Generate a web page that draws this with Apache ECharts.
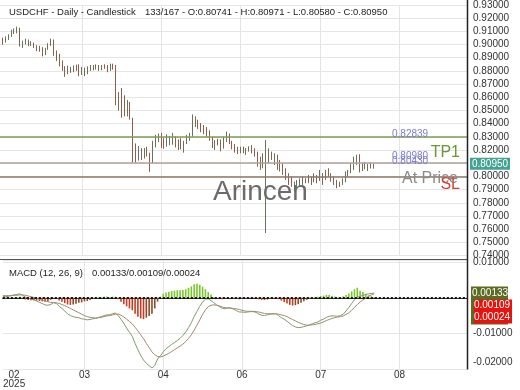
<!DOCTYPE html>
<html><head><meta charset="utf-8">
<script src="https://cdn.jsdelivr.net/npm/echarts@6/dist/echarts.min.js"></script>
<style>html,body{margin:0;padding:0;background:#fff}#c{width:520px;height:390px}</style>
</head><body><div id="c"></div>
<script>
// ---------- data ----------
const symbolTitle = 'USDCHF - Daily - Candlestick';
const macdTitle = 'MACD (12, 26, 9)';
const firstDate = '2025-02-05';
const totalSlots = 166;
const tickDates  = ['2025-02-11','2025-03-18','2025-04-25','2025-06-04','2025-07-14','2025-08-21'];
const tickLabels = ['02\n2025','03','04','06','07','08'];
const levelValues = [0.82839, 0.80980, 0.80430];
const levelNames  = ['TP1', 'At Price', 'SL'];
const lastPrice = 0.80950;

const open = [
.9035,.9045,.9040,.9050,.9068,.9100,.9090,.9125,.8995,.9015,
.9030,.9000,.9010,.8985,.8965,.8975,.8925,.8965,.9000,.9035,
.8930,.8890,.8850,.8830,.8790,.8815,.8800,.8830,.8820,.8775,
.8815,.8780,.8815,.8830,.8825,.8835,.8815,.8830,.8820,.8805,
.8845,.8830,.8600,.8600,.8560,.8500,.8560,.8440,.8160,.8150,
.8200,.8150,.8185,.8170,.8110,.8240,.8290,.8300,.8285,.8230,
.8260,.8275,.8295,.8265,.8240,.8220,.8255,.8305,.8310,.8450,
.8410,.8395,.8380,.8345,.8330,.8290,.8240,.8260,.8250,.8215,
.8280,.8310,.8265,.8220,.8200,.8185,.8210,.8190,.8205,.8215,
.8195,.8165,.8110,.8130,.8125,.8160,.8170,.8150,.8160,.8070,
.8055,.8020,.7985,.7950,.7930,.7945,.7950,.7960,.7975,.7965,
.7980,.7960,.7990,.7970,.8020,.7995,.8030,.8010,.7975,.7950,
.7925,.7940,.7960,.8030,.8040,.8085,.8130,.8150,.8050,.8085,
.8065,.8080,.80741];
const high = [
.9055,.9052,.9062,.9078,.9112,.9122,.9136,.9128,.9030,.9045,
.9038,.9025,.9015,.8995,.8990,.8980,.8975,.9010,.9045,.9038,
.8955,.8930,.8880,.8835,.8840,.8830,.8842,.8848,.8850,.8830,
.8825,.8835,.8845,.8845,.8850,.8845,.8845,.8850,.8845,.8855,
.8855,.8845,.8640,.8670,.8615,.8580,.8565,.8445,.8250,.8230,
.8215,.8215,.8225,.8180,.8270,.8315,.8325,.8330,.8290,.8320,
.8305,.8330,.8305,.8280,.8290,.8270,.8315,.8330,.8470,.8455,
.8430,.8405,.8390,.8375,.8350,.8300,.8275,.8285,.8280,.8300,
.8340,.8325,.8270,.8245,.8225,.8225,.8226,.8215,.8228,.8238,
.8213,.8188,.8150,.8175,.8276,.8213,.8188,.8175,.8165,.8125,
.8100,.8062,.8024,.7998,.7960,.7973,.7985,.7998,.7985,.8011,
.7998,.8024,.8011,.8049,.8025,.8049,.8062,.8024,.7998,.7973,
.7960,.7985,.8037,.8049,.8100,.8150,.8165,.8168,.8100,.8110,
.8095,.8105,.80971];
const low = [
.9020,.8998,.9015,.9035,.9058,.9080,.9085,.8985,.8975,.9000,
.8988,.8990,.8975,.8950,.8945,.8910,.8920,.8960,.8990,.8915,
.8875,.8835,.8800,.8755,.8775,.8785,.8790,.8800,.8760,.8770,
.8760,.8775,.8800,.8805,.8810,.8800,.8805,.8815,.8790,.8800,
.8810,.8540,.8500,.8445,.8455,.8455,.8430,.8105,.8105,.8120,
.8125,.8135,.8150,.8035,.8100,.8220,.8260,.8215,.8210,.8225,
.8235,.8240,.8220,.8200,.8205,.8180,.8245,.8270,.8300,.8375,
.8360,.8335,.8320,.8300,.8270,.8215,.8200,.8235,.8190,.8210,
.8260,.8245,.8205,.8180,.8170,.8175,.8175,.8163,.8188,.8175,
.8150,.8074,.8049,.8062,.7571,.8100,.8125,.8087,.8049,.8037,
.8011,.7973,.7935,.7922,.7884,.7910,.7922,.7935,.7948,.7948,
.7935,.7955,.7948,.7965,.7935,.7973,.7998,.7960,.7935,.7910,
.7920,.7935,.7955,.7998,.8024,.8049,.8087,.8030,.8040,.8055,
.8040,.8060,.80580];
const close = [
.9045,.9040,.9050,.9068,.9100,.9090,.9125,.8995,.9015,.9030,
.9000,.9010,.8985,.8965,.8975,.8925,.8965,.9000,.9035,.8930,
.8890,.8850,.8830,.8790,.8815,.8800,.8830,.8820,.8775,.8815,
.8780,.8815,.8830,.8825,.8835,.8815,.8830,.8820,.8805,.8845,
.8830,.8600,.8600,.8560,.8500,.8560,.8440,.8160,.8150,.8200,
.8150,.8185,.8170,.8110,.8240,.8290,.8300,.8285,.8230,.8260,
.8275,.8295,.8265,.8240,.8220,.8255,.8305,.8310,.8450,.8410,
.8395,.8380,.8345,.8330,.8290,.8240,.8260,.8250,.8215,.8280,
.8310,.8265,.8220,.8200,.8185,.8210,.8190,.8205,.8215,.8195,
.8165,.8110,.8130,.8125,.8160,.8170,.8150,.8160,.8070,.8055,
.8020,.7985,.7950,.7930,.7945,.7950,.7960,.7975,.7965,.7980,
.7960,.7990,.7970,.8020,.7995,.8030,.8010,.7975,.7950,.7925,
.7940,.7960,.8030,.8040,.8085,.8130,.8150,.8050,.8085,.8065,
.8080,.8074,.80950];

const macdLine = [
.0004,.0003,.0004,.0006,.0008,.0009,.0011,.0007,.0002,-.0001,
-.0004,-.0006,-.0009,-.0013,-.0016,-.0020,-.0021,-.0019,-.0014,-.0016,
-.0024,-.0030,-.0037,-.0045,-.0050,-.0053,-.0055,-.0056,-.0059,-.0060,
-.0062,-.0061,-.0059,-.0058,-.0055,-.0053,-.0050,-.0048,-.0048,-.0045,
-.0043,-.0050,-.0060,-.0072,-.0085,-.0097,-.0108,-.0128,-.0146,-.0162,
-.0175,-.0184,-.0191,-.0197,-.0190,-.0172,-.0163,-.0152,-.0143,-.0137,
-.0131,-.0126,-.0120,-.0114,-.0106,-.0096,-.0084,-.0070,-.0053,-.0038,
-.0024,-.0012,-.0004,-.0003,-.0008,-.0014,-.0020,-.0025,-.0030,-.0031,
-.0028,-.0029,-.0032,-.0036,-.0040,-.0040,-.0041,-.0040,-.0039,-.0039,
-.0041,-.0046,-.0049,-.0050,-.0048,-.0046,-.0045,-.0045,-.0050,-.0056,
-.0060,-.0066,-.0072,-.0078,-.0082,-.0084,-.0083,-.0081,-.0079,-.0076,
-.0073,-.0070,-.0068,-.0063,-.0060,-.0055,-.0052,-.0051,-.0051,-.0052,
-.0050,-.0046,-.0037,-.0027,-.0016,-.0006,.0002,.0004,.0007,.0009,
.0011,.0012,.00133];
const signalLine = [
.0006,.0006,.0006,.0006,.0007,.0007,.0008,.0008,.0007,.0005,
.0003,.0001,-.0001,-.0004,-.0006,-.0009,-.0011,-.0013,-.0013,-.0014,
-.0016,-.0019,-.0022,-.0026,-.0030,-.0034,-.0038,-.0042,-.0046,-.0050,
-.0053,-.0055,-.0056,-.0057,-.0056,-.0055,-.0053,-.0051,-.0050,-.0048,
-.0046,-.0046,-.0049,-.0054,-.0060,-.0067,-.0073,-.0083,-.0093,-.0104,
-.0115,-.0128,-.0140,-.0152,-.0160,-.0165,-.0166,-.0164,-.0160,-.0156,
-.0151,-.0146,-.0141,-.0136,-.0130,-.0123,-.0114,-.0104,-.0091,-.0077,
-.0062,-.0047,-.0034,-.0025,-.0021,-.0020,-.0021,-.0023,-.0026,-.0028,
-.0029,-.0029,-.0030,-.0031,-.0033,-.0035,-.0037,-.0038,-.0038,-.0038,
-.0039,-.0040,-.0042,-.0044,-.0045,-.0045,-.0045,-.0045,-.0046,-.0048,
-.0050,-.0053,-.0057,-.0061,-.0065,-.0069,-.0072,-.0075,-.0077,-.0077,
-.0076,-.0075,-.0073,-.0071,-.0068,-.0064,-.0061,-.0058,-.0056,-.0054,
-.0053,-.0051,-.0047,-.0042,-.0035,-.0027,-.0019,-.0012,-.0006,-.0001,
.0004,.0008,.00109];
const histogram = [
-.0002,-.0003,-.0002,.0000,.0001,.0002,.0003,-.0001,-.0005,-.0006,
-.0007,-.0007,-.0008,-.0009,-.0010,-.0011,-.0010,-.0006,-.0001,-.0002,
-.0008,-.0011,-.0015,-.0019,-.0020,-.0019,-.0017,-.0014,-.0013,-.0010,
-.0009,-.0006,-.0003,-.0001,.0001,.0002,.0003,.0003,.0002,.0003,
.0003,-.0004,-.0011,-.0018,-.0024,-.0030,-.0035,-.0045,-.0053,-.0058,
-.0060,-.0056,-.0051,-.0045,-.0030,-.0011,.0003,.0011,.0015,.0017,
.0019,.0020,.0021,.0021,.0022,.0024,.0028,.0032,.0038,.0039,
.0036,.0031,.0024,.0016,.0009,.0002,-.0002,-.0003,-.0004,-.0002,
.0001,.0000,-.0002,-.0003,-.0004,-.0003,-.0003,-.0002,-.0001,-.0001,
-.0002,-.0004,-.0006,-.0006,-.0005,-.0003,-.0002,-.0002,-.0004,-.0008,
-.0012,-.0016,-.0020,-.0022,-.0021,-.0018,-.0014,-.0010,-.0006,-.0003,
-.0001,.0002,.0003,.0005,.0006,.0008,.0008,.0005,.0003,.0001,
.0002,.0004,.0008,.0012,.0018,.0024,.0028,.0020,.0016,.0011,
.0007,.0004,.00024];

// ---------- build ----------
const FONT = '"Liberation Sans", Arial, Helvetica, sans-serif';
const dates = [];
{
  const d = new Date(firstDate + 'T00:00:00Z');
  while (dates.length < totalSlots) {
    const wd = d.getUTCDay();
    if (wd !== 0 && wd !== 6) dates.push(d.toISOString().slice(0, 10));
    d.setUTCDate(d.getUTCDate() + 1);
  }
}
const gridDates = tickDates.slice(1);
const candles = open.map((o, i) => [o, close[i], low[i], high[i]]);
const n = open.length;

const chart = echarts.init(document.getElementById('c'), null, {renderer: 'canvas'});
const splitCommon = {show: true, interval: (i, v) => gridDates.includes(v), lineStyle: {color: '#e4e4e4', width: 1}};

const option = {
  animation: false,
  backgroundColor: '#ffffff',
  textStyle: {fontFamily: FONT},
  grid: [
    {left: 0, right: 53, top: 5, height: 250.5},
    {left: 0, right: 53, top: 260, height: 109}
  ],
  xAxis: [
    {type: 'category', gridIndex: 0, data: dates, boundaryGap: false,
     axisLine: {show: false}, axisTick: {show: false}, axisLabel: {show: false},
     splitLine: splitCommon},
    {type: 'category', gridIndex: 1, data: dates, boundaryGap: false,
     axisLine: {show: true, lineStyle: {color: '#333', width: 1}}, axisTick: {show: false},
     axisLabel: {interval: (i, v) => tickDates.includes(v),
                 formatter: v => tickLabels[tickDates.indexOf(v)] || '',
                 fontSize: 10, color: '#333', lineHeight: 8.5, margin: 2, fontFamily: FONT},
     splitLine: splitCommon}
  ],
  yAxis: [
    {type: 'value', gridIndex: 0, position: 'right', min: 0.74, max: 0.93, interval: 0.01,
     axisLine: {show: false}, axisTick: {show: false},
     axisLabel: {formatter: v => v.toFixed(5), fontSize: 10, color: '#333', margin: 6, fontFamily: FONT},
     splitLine: {show: true, lineStyle: {color: '#e6e6e6', width: 1}}},
    {type: 'value', gridIndex: 1, position: 'right', min: -0.02, max: 0.0106, interval: 0.01,
     axisLine: {show: false}, axisTick: {show: false},
     axisLabel: {fontSize: 10, color: '#333', margin: 6, fontFamily: FONT,
       formatter: v => {
         const r = Math.round(v * 100) / 100;
         if (Math.abs(v - r) > 1e-7 || Math.abs(r) < 1e-9) return '';
         if (r <= -0.0199) return '{lo|' + r.toFixed(5) + '}';
         return r.toFixed(5);
       },
       rich: {lo: {fontSize: 10, color: '#333', fontFamily: FONT, padding: [0, 0, 14, 0]}}},
     splitLine: {show: true, lineStyle: {color: '#e6e6e6', width: 1}}}
  ],
  series: [
    {type: 'candlestick', xAxisIndex: 0, yAxisIndex: 0, data: candles, barWidth: 1, z: 3,
     itemStyle: {color: '#7a8670', color0: '#9a6e5e', borderColor: '#66735d', borderColor0: '#8c5e4e', borderWidth: 1},
     markLine: {silent: true, symbol: 'none', label: {show: false}, animation: false,
       data: [
         {yAxis: levelValues[0], lineStyle: {color: '#7f9c56', width: 1.5, type: 'solid'}},
         {yAxis: levelValues[1], lineStyle: {color: '#b59e9e', width: 1.5, type: 'solid'}},
         {yAxis: levelValues[2], lineStyle: {color: '#8e7666', width: 1.5, type: 'solid'}}
       ]}},
    {type: 'bar', xAxisIndex: 1, yAxisIndex: 1, data: histogram, barWidth: 1.6, z: 2,
     itemStyle: {color: p => {
       const v = p.value, prev = p.dataIndex > 0 ? histogram[p.dataIndex - 1] : v;
       if (v >= 0) return '#79c82a';
       return v < prev ? '#c83a22' : '#8e4a26';
     }},
     markLine: {silent: true, symbol: 'none', label: {show: false}, animation: false,
       lineStyle: {color: '#111', width: 1.6, type: [2, 2]},
       data: [{yAxis: signalLine[n - 1]}, {yAxis: histogram[n - 1]}]}},
    {type: 'line', xAxisIndex: 1, yAxisIndex: 1, data: macdLine, symbol: 'none', z: 4,
     lineStyle: {color: '#7f9a70', width: 1}},
    {type: 'line', xAxisIndex: 1, yAxisIndex: 1, data: signalLine, symbol: 'none', z: 4,
     lineStyle: {color: '#a08a72', width: 1}}
  ]
};
chart.setOption(option);

// ---------- overlay texts / tags positioned through the axes ----------
const py = v => chart.convertToPixel({yAxisIndex: 0}, v);
const my = v => chart.convertToPixel({yAxisIndex: 1}, v);
const fmt = v => v.toFixed(5);
const ohlcText = n + '/' + (totalSlots + 1) + ' - O:' + fmt(open[n - 1]) + ' - H:' + fmt(high[n - 1]) +
                 ' - L:' + fmt(low[n - 1]) + ' - C:' + fmt(close[n - 1]);
const macdText = fmt(macdLine[n - 1]) + '/' + fmt(signalLine[n - 1]) + '/' + fmt(histogram[n - 1]);
const txt = (x, y, text, size, fill, align, extra) => Object.assign({
  type: 'text', x: x, y: y, silent: true,
  style: {text: text, fontSize: size, fill: fill, fontFamily: FONT, align: align || 'left', verticalAlign: 'middle'}
}, extra || {});

const tagY = py(lastPrice);
const m0 = my(macdLine[n - 1]);
const graphics = [
  txt(213, 192, 'Arincen', 28, '#6b6b6b', 'left', {z: 1}),
  txt(9, 12, symbolTitle, 9.5, '#222', 'left', {z: 20}),
  txt(145, 12, ohlcText, 9.5, '#222', 'left', {z: 20}),
  txt(9, 273, macdTitle, 9.5, '#222', 'left', {z: 20}),
  txt(92, 273, macdText, 9.5, '#222', 'left', {z: 20}),
  txt(392, py(levelValues[0]) - 5, fmt(levelValues[0]), 10, '#7b7bd0', 'left', {z: 20}),
  txt(392, py(levelValues[1]) - 7, fmt(levelValues[1]), 10, '#7b7bd0', 'left', {z: 20}),
  txt(392, py(levelValues[2]) - 9.5, fmt(levelValues[2]), 10, '#7b7bd0', 'left', {z: 20}),
  txt(460, py(levelValues[0]) + 13.5, levelNames[0], 16, '#6a9636', 'right', {z: 20}),
  txt(458, py(levelValues[1]) + 15.5, levelNames[1], 16, '#8a8a8a', 'right', {z: 20}),
  txt(460, py(levelValues[2]) + 13.5, levelNames[2], 16, '#cf4436', 'right', {z: 21}),
  {type: 'line', silent: true, z: 30, shape: {x1: 0, y1: 259.5, x2: 467, y2: 259.5}, style: {stroke: '#555', lineWidth: 1}},
  {type: 'line', silent: true, z: 30, shape: {x1: 467.5, y1: 0, x2: 467.5, y2: 369.5}, style: {stroke: '#222', lineWidth: 1.5}},
  {type: 'rect', silent: true, z: 30, shape: {x: 470, y: tagY - 6, width: 40, height: 12}, style: {fill: '#45a192'}},
  txt(490, tagY, fmt(lastPrice), 10, '#ffffff', 'center', {z: 31}),
  {type: 'rect', silent: true, z: 30, shape: {x: 471, y: m0 - 6.5, width: 37, height: 38}, style: {fill: '#5b6b24'}},
  {type: 'rect', silent: true, z: 31, shape: {x: 474, y: m0 + 6.5, width: 38, height: 24}, style: {fill: '#e5140e'}},
  txt(490, m0, fmt(macdLine[n - 1]), 10, '#ffffff', 'center', {z: 32}),
  txt(492, m0 + 12.5, fmt(signalLine[n - 1]), 10, '#ffffff', 'center', {z: 32}),
  txt(492, m0 + 24.5, fmt(histogram[n - 1]), 10, '#ffffff', 'center', {z: 32})
];
chart.setOption({graphic: graphics});
</script>
</body></html>
